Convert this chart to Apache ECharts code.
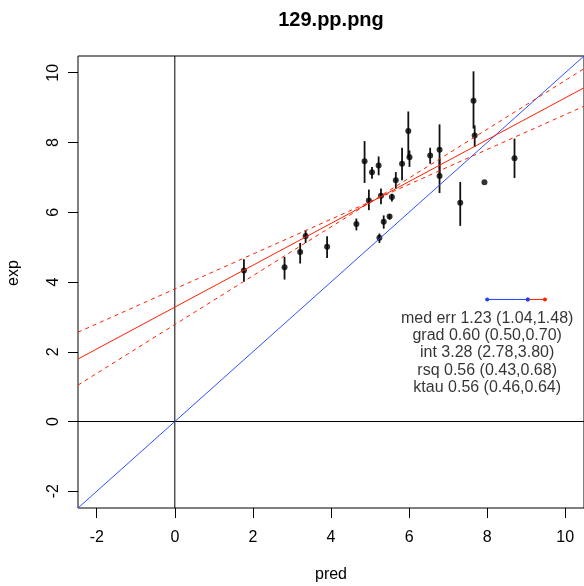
<!DOCTYPE html>
<html>
<head>
<meta charset="utf-8">
<script src="https://cdn.jsdelivr.net/npm/echarts@6/dist/echarts.min.js"></script>
<style>
html,body{margin:0;padding:0;background:#fff;}
#c{width:584px;height:586px;}
</style>
</head>
<body>
<div id="c"></div>
<script>
// ---- data ----
var titleText = '129.pp.png';
var xName = 'pred';
var yName = 'exp';
var axisMin = -2.48, axisMax = 10.48;
var tickValues = [-2, 0, 2, 4, 6, 8, 10];

var predX = [1.77, 2.81, 3.21, 3.35, 3.90, 4.65, 4.86, 4.97, 5.05, 5.22, 5.28, 5.24, 5.35, 5.50, 5.56, 5.66, 5.82, 5.98, 6.01, 6.54, 6.78, 6.78, 7.31, 7.65, 7.68, 7.93, 8.70];
var expY  = [4.33, 4.42, 4.86, 5.32, 5.01, 5.66, 7.46, 6.34, 7.15, 7.34, 6.47, 5.27, 5.73, 5.88, 6.44, 6.92, 7.39, 8.33, 7.58, 7.63, 7.79, 7.04, 6.27, 9.20, 8.20, 6.86, 7.55];
var errLo = [4.01, 4.07, 4.53, 5.12, 4.69, 5.48, 6.84, 6.06, 6.96, 7.06, 6.23, 5.12, 5.53, 5.79, 6.31, 6.68, 6.92, 7.58, 7.30, 7.39, 7.06, 6.55, 5.61, 8.40, 7.87, 6.86, 6.98];
var errHi = [4.65, 4.72, 5.12, 5.49, 5.31, 5.82, 8.04, 6.65, 7.30, 7.60, 6.68, 5.39, 5.91, 5.94, 6.53, 7.15, 7.85, 8.89, 7.77, 7.85, 8.52, 7.53, 6.87, 10.04, 8.49, 6.86, 8.11];

var fitInt = 3.28, fitGrad = 0.60;
var ciLines = [[3.80, 0.50], [2.78, 0.70]]; // [intercept, gradient]

var errBarStart = 8.0, errBarY = 3.5, errBarLo = 1.04, errBarHi = 1.48;
var statLines = [
  'med err 1.23 (1.04,1.48)',
  'grad 0.60 (0.50,0.70)',
  'int 3.28 (2.78,3.80)',
  'rsq 0.56 (0.43,0.68)',
  'ktau 0.56 (0.46,0.64)'
];
var statX = 8.0;
var statY = [2.96, 2.46, 1.97, 1.47, 0.97];

// ---- build ----
var FONT = 'Liberation Sans, Arial, Helvetica, sans-serif';
function lineOf(a, b) { return [[axisMin, a + b * axisMin], [axisMax, a + b * axisMax]]; }

var pts = predX.map(function (x, i) { return [x, expY[i]]; });
var bars = predX.map(function (x, i) { return [x, errLo[i], errHi[i]]; });

var chart = echarts.init(document.getElementById('c'), null, {renderer: 'canvas'});
function makeAxis(extra) {
  var ax = {
    type: 'value', min: axisMin, max: axisMax,
    axisLine: {show: false, onZero: false},
    splitLine: {show: false},
    axisTick: {show: true, inside: false, length: 10, customValues: tickValues, lineStyle: {color: '#000', width: 1}},
    axisLabel: {customValues: tickValues, color: '#000', fontFamily: FONT, fontSize: 16}
  };
  for (var k in extra) ax.axisLabel[k] = extra[k];
  return ax;
}

var option = {
  animation: false,
  backgroundColor: '#fff',
  grid: {left: 78, top: 56, width: 507, height: 452, show: true, borderColor: '#000', borderWidth: 1, backgroundColor: 'transparent'},
  xAxis: makeAxis({margin: 22}),
  yAxis: makeAxis({margin: 16, rotate: 90}),
  series: [
    {type: 'line', data: [[0, axisMin], [0, axisMax]], symbol: 'none', lineStyle: {color: '#000', width: 1}, silent: true},
    {type: 'line', data: [[axisMin, 0], [axisMax, 0]], symbol: 'none', lineStyle: {color: '#000', width: 1}, silent: true},
    {type: 'line', data: lineOf(0, 1), symbol: 'none', lineStyle: {color: '#3050ff', width: 1}, silent: true},
    {type: 'line', data: lineOf(fitInt, fitGrad), symbol: 'none', lineStyle: {color: '#ff2000', width: 1}, silent: true},
    {type: 'line', data: lineOf(ciLines[0][0], ciLines[0][1]), symbol: 'none', lineStyle: {color: '#ff2000', width: 1, type: [4, 4]}, silent: true},
    {type: 'line', data: lineOf(ciLines[1][0], ciLines[1][1]), symbol: 'none', lineStyle: {color: '#ff2000', width: 1, type: [4, 4]}, silent: true},
    {
      type: 'custom', data: bars, silent: true,
      renderItem: function (params, api) {
        var p1 = api.coord([api.value(0), api.value(1)]);
        var p2 = api.coord([api.value(0), api.value(2)]);
        return {type: 'line', shape: {x1: p1[0], y1: p1[1], x2: p2[0], y2: p2[1]}, style: {stroke: '#111', lineWidth: 1.8}};
      }
    },
    {type: 'scatter', data: pts, symbol: 'circle', symbolSize: 6, itemStyle: {color: '#000'}, silent: true},
    {type: 'line', data: [[errBarStart + errBarLo, errBarY], [errBarStart + errBarHi, errBarY]], symbol: 'circle', showSymbol: true,
      symbolSize: 4, lineStyle: {color: '#ff2000', width: 1}, itemStyle: {color: '#ff2000'}, silent: true},
    {type: 'line', data: [[errBarStart, errBarY], [errBarStart + errBarLo, errBarY]], symbol: 'circle', symbolSize: 4, lineStyle: {color: '#2040ff', width: 1}, itemStyle: {color: '#2040ff'}, silent: true, z: 5},
    {
      type: 'scatter', silent: true, symbolSize: 0.1, itemStyle: {color: 'transparent'},
      data: statLines.map(function (t, i) { return {value: [statX, statY[i]], name: t}; }),
      label: {show: true, position: 'inside', formatter: function (p) { return p.name; }, color: '#000', fontFamily: FONT, fontSize: 16}
    }
  ],
  graphic: [
    {type: 'text', x: 331, y: 20, style: {text: titleText, font: 'bold 20px ' + FONT, fill: '#000', align: 'center', verticalAlign: 'middle'}},
    {type: 'text', x: 331, y: 575, style: {text: xName, font: '16px ' + FONT, fill: '#000', align: 'center', verticalAlign: 'middle'}},
    {type: 'text', x: 14, y: 273, rotation: Math.PI / 2, style: {text: yName, font: '16px ' + FONT, fill: '#000', align: 'center', verticalAlign: 'middle'}}
  ]
};
chart.setOption(option);
</script>
</body>
</html>
